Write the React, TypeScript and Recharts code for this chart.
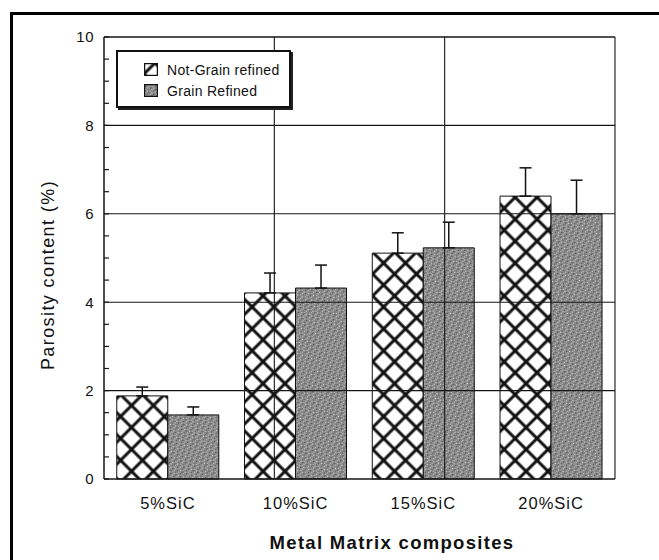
import {
  BarChart, Bar, XAxis, YAxis, ErrorBar, ReferenceLine, Legend,
} from 'recharts';

const categories = ['5%SiC', '10%SiC', '15%SiC', '20%SiC'];
const notGrainRefined = [1.88, 4.21, 5.11, 6.4];
const grainRefined = [1.45, 4.32, 5.23, 6.0];
const notGrainError = [0.2, 0.45, 0.46, 0.64];
const grainError = [0.18, 0.52, 0.58, 0.76];
const seriesNames = ['Not-Grain refined', 'Grain Refined'];
const majorTicks = [0, 2, 4, 6, 8, 10];
const minorTicks = [0.5, 1, 1.5, 2.5, 3, 3.5, 4.5, 5, 5.5, 6.5, 7, 7.5, 8.5, 9, 9.5];
const boundaries = [1, 2, 3];

const data = categories.map((name, i) => ({
  name,
  notGrain: notGrainRefined[i],
  grain: grainRefined[i],
  errNotGrain: [0, notGrainError[i]],
  errGrain: [0, grainError[i]],
}));

const allTicks = [...majorTicks, ...minorTicks].sort((a, b) => a - b);
const ink = '#161616';
const font = '"Liberation Sans", Arial, sans-serif';

function LeftTick(props: any) {
  const { x, y, payload } = props;
  const major = majorTicks.includes(payload.value);
  return (
    <g>
      <line x1={x + 10} x2={x + 15} y1={y} y2={y} stroke={ink} strokeWidth={1.2} />
      {major && (
        <text x={x} y={y} dy="0.36em" textAnchor="end" fontSize={15} fill="#111"
          fontFamily={font} letterSpacing={0.5}>
          {payload.value}
        </text>
      )}
    </g>
  );
}

function RightTick(props: any) {
  const { x, y } = props;
  return <line x1={x - 5} x2={x} y1={y} y2={y} stroke={ink} strokeWidth={1.2} />;
}

function LegendBox() {
  const fills = ['url(#crosshatch)', 'url(#speckle)'];
  return (
    <div style={{
      width: 171, height: 54, border: '2px solid #111', background: '#fff',
      boxShadow: '2px 2px 0 #222', fontFamily: font, fontSize: 14, color: '#111',
      boxSizing: 'content-box',
    }}>
      {seriesNames.map((s, i) => (
        <div key={s} style={{ display: 'flex', alignItems: 'center', marginLeft: 26, marginTop: i === 0 ? 9 : 4, height: 17 }}>
          <svg width={14} height={13} style={{ marginRight: 9 }}>
            <rect x={0.5} y={0.5} width={13} height={12} fill={fills[i]} stroke="#111" strokeWidth={1.5} />
          </svg>
          <span style={{ letterSpacing: 0.3 }}>{s}</span>
        </div>
      ))}
    </div>
  );
}

export default function App() {
  return (
    <div style={{ position: 'absolute', left: 0, top: 0, width: 659, height: 560, overflow: 'hidden', background: '#fff' }}>
      <div style={{
        position: 'absolute', left: 10, top: 12, width: 700, height: 600,
        borderLeft: '3px solid #000', borderTop: '3px solid #000',
      }} />
      <BarChart
        width={659}
        height={560}
        data={data}
        margin={{ top: 37, right: 44, left: 0, bottom: 21 }}
        barCategoryGap="10%"
        barGap={0}
        style={{ position: 'absolute', left: 0, top: 0 }}
      >
        <defs>
          <pattern id="crosshatch" patternUnits="userSpaceOnUse" width={15.5} height={15.5}
            patternTransform="rotate(45)">
            <rect width={15.5} height={15.5} fill="#fff" />
            <line x1={7.75} y1={0} x2={7.75} y2={15.5} stroke="#111" strokeWidth={3} />
            <line x1={0} y1={7.75} x2={15.5} y2={7.75} stroke="#111" strokeWidth={3} />
          </pattern>
          <pattern id="speckle" patternUnits="userSpaceOnUse" width={5} height={5}
            patternTransform="rotate(20)">
            <rect width={5} height={5} fill="#8a8a8a" />
            <rect x={0} y={0} width={1} height={1} fill="#d4d4d4" />
            <rect x={2} y={1} width={1} height={1} fill="#4e4e4e" />
            <rect x={4} y={2} width={1} height={1} fill="#c4c4c4" />
            <rect x={1} y={3} width={1} height={1} fill="#5c5c5c" />
            <rect x={3} y={4} width={1} height={1} fill="#bcbcbc" />
            <rect x={3} y={0} width={1} height={1} fill="#6a6a6a" />
          </pattern>
        </defs>
        <XAxis
          dataKey="name"
          height={60}
          tickSize={0}
          tickMargin={18}
          axisLine={{ stroke: ink, strokeWidth: 1.5 }}
          tick={{ fontSize: 16.5, fill: '#111', fontFamily: font, letterSpacing: 1 }}
          label={{
            content: () => (
              <text x={392} y={549} textAnchor="middle" fontSize={18.5} fontWeight="bold"
                fontFamily={font} fill="#111" letterSpacing={1.3}>
                Metal Matrix composites
              </text>
            ),
          }}
        />
        <XAxis xAxisId="grid" type="number" domain={[0, 4]} hide />
        <YAxis
          width={104}
          domain={[0, 10]}
          ticks={allTicks}
          interval={0}
          tickSize={0}
          tickMargin={10}
          axisLine={{ stroke: ink, strokeWidth: 1.5 }}
          tick={<LeftTick />}
          label={{
            content: () => (
              <text x={54} y={275} transform="rotate(-90 54 275)" textAnchor="middle"
                fontSize={18} fontFamily={font} fill="#111" letterSpacing={1.4}>
                Parosity content (%)
              </text>
            ),
          }}
        />
        <YAxis
          yAxisId="right"
          orientation="right"
          width={0}
          domain={[0, 10]}
          ticks={allTicks}
          interval={0}
          tickSize={0}
          tickMargin={0}
          axisLine={{ stroke: ink, strokeWidth: 1.5 }}
          tick={<RightTick />}
        />
        <Legend
          verticalAlign="middle"
          align="center"
          layout="horizontal"
          wrapperStyle={{ position: 'absolute', left: 116, top: 50, width: 175, height: 58 }}
          content={() => <LegendBox />}
        />
        <Bar dataKey="notGrain" name={seriesNames[0]} fill="url(#crosshatch)" stroke="#111"
          strokeWidth={1} isAnimationActive={false}>
          <ErrorBar dataKey="errNotGrain" width={6} stroke="#111" strokeWidth={1.5} direction="y" />
        </Bar>
        <Bar dataKey="grain" name={seriesNames[1]} fill="url(#speckle)" stroke="#111"
          strokeWidth={1} isAnimationActive={false}>
          <ErrorBar dataKey="errGrain" width={6} stroke="#111" strokeWidth={1.5} direction="y" />
        </Bar>
        {majorTicks.slice(1).map(v => (
          <ReferenceLine key={v} y={v} stroke={ink} strokeWidth={v === 10 ? 1.5 : 1.1} />
        ))}
        {boundaries.map(v => (
          <ReferenceLine key={v} x={v} xAxisId="grid" stroke={ink} strokeWidth={1.1} />
        ))}
      </BarChart>
    </div>
  );
}
